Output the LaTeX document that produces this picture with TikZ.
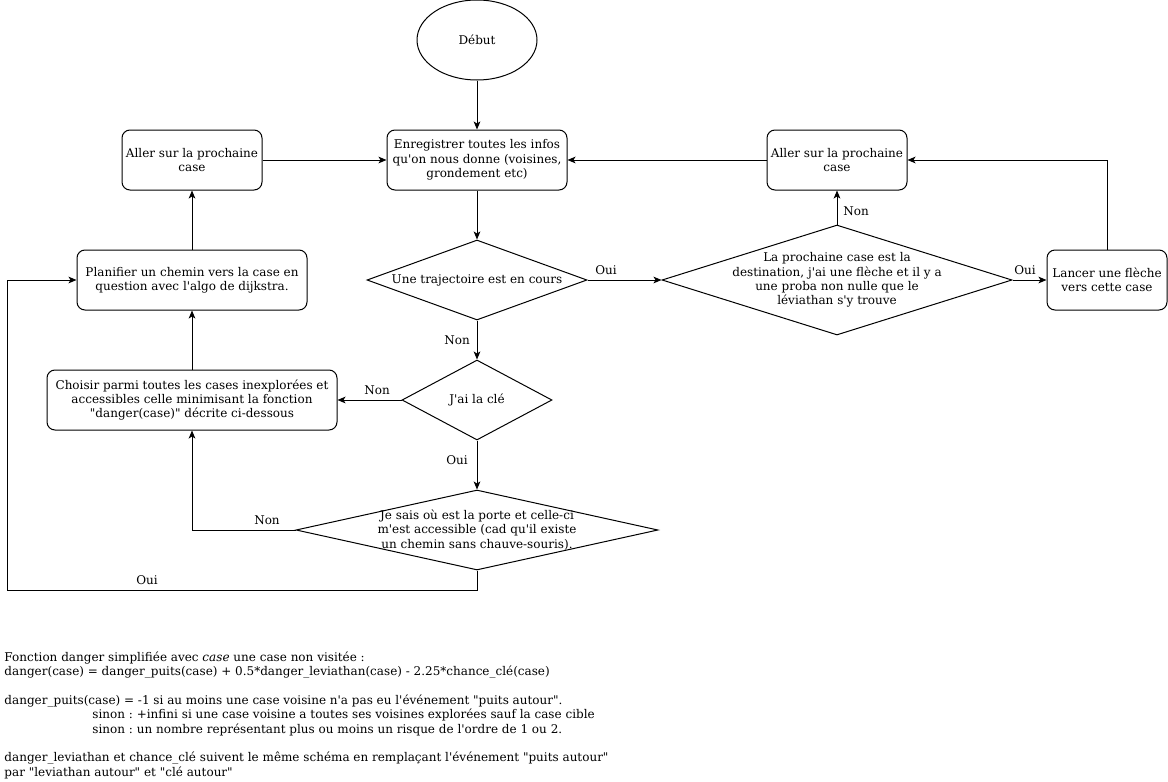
\documentclass[tikz,border=0pt]{standalone}
\usepackage{fontspec}
\setmainfont{DejaVu Serif}[Ligatures=TeXOff]
\usetikzlibrary{shapes.geometric,arrows.meta}
\frenchspacing
\begin{document}
\begin{tikzpicture}[x=0.75pt,y=-0.75pt,
  font=\fontsize{9}{10.8}\selectfont,
  line width=0.75pt,
  box/.style={draw,rounded corners=6pt,inner sep=0pt,align=center},
  dia/.style={draw,diamond,inner sep=0pt},
  ell/.style={draw,ellipse,inner sep=0pt},
  arr/.style={-{Stealth[length=6pt,width=5pt,inset=1.5pt]}},
  lbl/.style={inner sep=0pt}
]
\useasboundingbox (0,0) rectangle (1168,782);

\node[ell,minimum width=120*0.75pt,minimum height=80*0.75pt] (debut) at (477,40) {Début};
\node[box,minimum width=180*0.75pt,minimum height=60*0.75pt] (enr) at (477,160) {Enregistrer toutes les infos\\qu'on nous donne (voisines,\\grondement etc)};
\node[box,minimum width=140*0.75pt,minimum height=60*0.75pt] (allerL) at (192,160) {Aller sur la prochaine\\case};
\node[box,minimum width=140*0.75pt,minimum height=60*0.75pt] (allerR) at (837,160) {Aller sur la prochaine\\case};
\node[dia,minimum width=220*0.75pt,minimum height=80*0.75pt,label={center:Une trajectoire est en cours}] (traj) at (477,280) {};
\node[dia,minimum width=350*0.75pt,minimum height=110*0.75pt,label={[align=center]center:La prochaine case est la\\destination, j'ai une flèche et il y a\\une proba non nulle que le\\léviathan s'y trouve}] (dest) at (837,280) {};
\node[box,minimum width=120*0.75pt,minimum height=60*0.75pt] (lancer) at (1107,280) {Lancer une flèche\\vers cette case};
\node[box,minimum width=230*0.75pt,minimum height=60*0.75pt] (plan) at (192,280) {Planifier un chemin vers la case en\\question avec l'algo de dijkstra.};
\node[dia,minimum width=150*0.75pt,minimum height=80*0.75pt,label={center:J'ai la clé}] (cle) at (477,400) {};
\node[box,minimum width=290*0.75pt,minimum height=60*0.75pt] (choisir) at (192,400) {Choisir parmi toutes les cases inexplorées et\\accessibles celle minimisant la fonction\\"danger(case)" décrite ci-dessous};
\node[dia,minimum width=362*0.75pt,minimum height=80*0.75pt,label={[align=center]center:Je sais où est la porte et celle-ci\\m'est accessible (cad qu'il existe\\un chemin sans chauve-souris).}] (porte) at (477,530) {};

\coordinate (cA) at (477,590);
\coordinate (cB) at (7,590);
\coordinate (cC) at (7,280);
\coordinate (cD) at (192,530);
\coordinate (cE) at (1107,160);

\draw[arr] (debut) -- (enr);
\draw[arr] (allerL) -- (enr);
\draw[arr] (allerR) -- (enr);
\draw[arr] (enr) -- (traj);
\draw[arr] (traj.east) -- (dest.west);
\draw[arr] (dest.north) -- (allerR.south);
\draw[arr] (dest.east) -- (lancer.west);
\draw[arr] (lancer.north) -- (cE) -- (allerR.east);
\draw[arr] (traj.south) -- (cle.north);
\draw[arr] (cle.west) -- (choisir.east);
\draw[arr] (cle.south) -- (porte.north);
\draw[arr] (porte.west) -- (cD) -- (choisir.south);
\draw[arr] (porte.south) -- (cA) -- (cB) -- (cC) -- (plan.west);
\draw[arr] (choisir) -- (plan);
\draw[arr] (plan) -- (allerL);

\node[lbl] (l1) at (606,270) {Oui};
\node[lbl] (l2) at (856,211) {Non};
\node[lbl] (l3) at (1025,270) {Oui};
\node[lbl] (l4) at (457,340) {Non};
\node[lbl] (l5) at (377,390) {Non};
\node[lbl] (l6) at (457,460) {Oui};
\node[lbl] (l7) at (267,520) {Non};
\node[lbl] (l8) at (147,580) {Oui};

\node[anchor=north west,inner sep=0pt,align=left] (txt) at (4,651) {Fonction danger simplifiée avec \textit{case} une case non visitée :\\
danger(case) = danger\_puits(case) + 0.5*danger\_leviathan(case) - 2.25*chance\_clé(case)\\
\mbox{}\\
danger\_puits(case) = -1 si au moins une case voisine n'a pas eu l'événement "puits autour".\\
\hspace*{66pt}sinon : +infini si une case voisine a toutes ses voisines explorées sauf la case cible\\
\hspace*{66pt}sinon : un nombre représentant plus ou moins un risque de l'ordre de 1 ou 2.\\
\mbox{}\\
danger\_leviathan et chance\_clé suivent le même schéma en remplaçant l'événement "puits autour"\\
par "leviathan autour" et "clé autour"};
\end{tikzpicture}
\end{document}
